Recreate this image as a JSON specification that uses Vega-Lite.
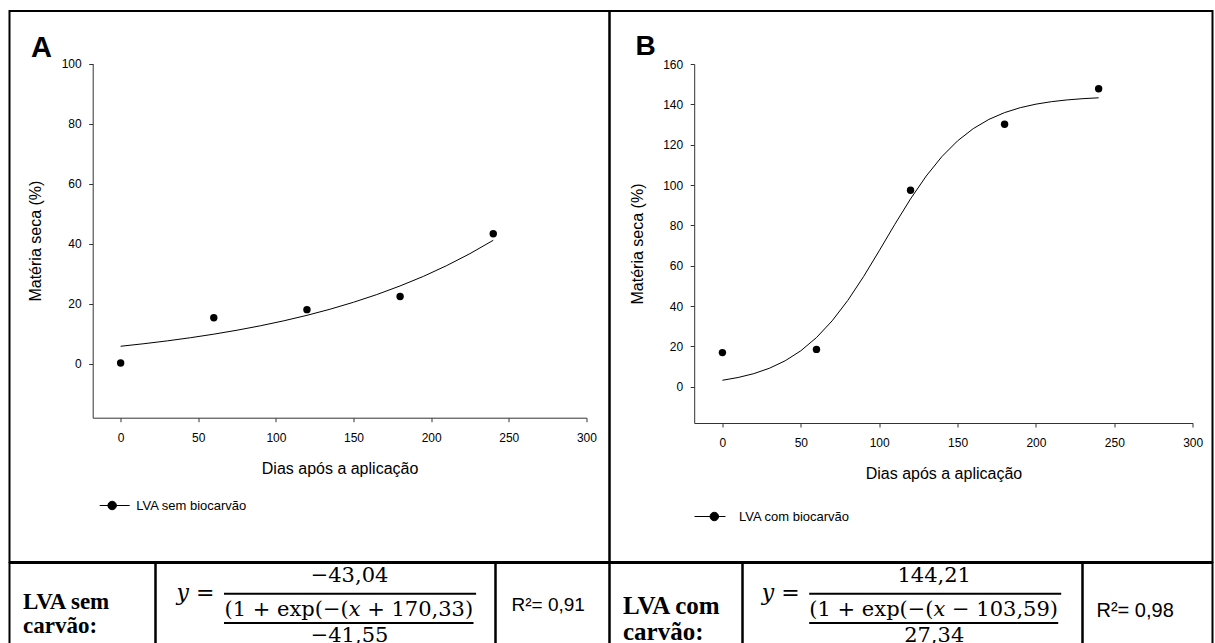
{
  "$schema": "https://vega.github.io/schema/vega-lite/v6.json",
  "background": "white",
  "padding": {"left": 8.5, "top": 10, "right": 2, "bottom": 0},
  "config": {
    "font": "Liberation Sans",
    "view": {"stroke": "black", "strokeWidth": 2},
    "axis": {
      "grid": false,
      "domainColor": "#333333",
      "tickColor": "#333333",
      "domainWidth": 1,
      "tickWidth": 1,
      "tickSize": 4,
      "labelColor": "black",
      "titleColor": "black",
      "labelFont": "Liberation Sans",
      "titleFont": "Liberation Sans",
      "labelFontSize": 12,
      "titleFontSize": 16,
      "titleFontWeight": "normal",
      "labelFlush": false,
      "labelOverlap": false
    }
  },
  "datasets": {
    "pontosA": [
      {"dias": 0, "ms": 0.2, "serie": "LVA sem biocarvão"},
      {"dias": 60, "ms": 15.3, "serie": "LVA sem biocarvão"},
      {"dias": 120, "ms": 18.0, "serie": "LVA sem biocarvão"},
      {"dias": 180, "ms": 22.4, "serie": "LVA sem biocarvão"},
      {"dias": 240, "ms": 43.3, "serie": "LVA sem biocarvão"}
    ],
    "curvaA": [
      {"dias": 0, "ms": 5.8}, {"dias": 15, "ms": 6.65}, {"dias": 30, "ms": 7.59},
      {"dias": 45, "ms": 8.65}, {"dias": 60, "ms": 9.83}, {"dias": 75, "ms": 11.15},
      {"dias": 90, "ms": 12.62}, {"dias": 105, "ms": 14.27}, {"dias": 120, "ms": 16.1},
      {"dias": 135, "ms": 18.16}, {"dias": 150, "ms": 20.46}, {"dias": 165, "ms": 23.02},
      {"dias": 180, "ms": 25.9}, {"dias": 195, "ms": 29.08}, {"dias": 210, "ms": 32.67},
      {"dias": 225, "ms": 36.66}, {"dias": 240, "ms": 41.1}
    ],
    "pontosB": [
      {"dias": 0, "ms": 16.9, "serie": "LVA com biocarvão"},
      {"dias": 60, "ms": 18.5, "serie": "LVA com biocarvão"},
      {"dias": 120, "ms": 97.4, "serie": "LVA com biocarvão"},
      {"dias": 180, "ms": 130.1, "serie": "LVA com biocarvão"},
      {"dias": 240, "ms": 147.7, "serie": "LVA com biocarvão"}
    ],
    "curvaB": [
      {"dias": 0, "ms": 3.19}, {"dias": 10, "ms": 4.56}, {"dias": 20, "ms": 6.47},
      {"dias": 30, "ms": 9.15}, {"dias": 40, "ms": 12.83}, {"dias": 50, "ms": 17.8},
      {"dias": 60, "ms": 24.35}, {"dias": 70, "ms": 32.66}, {"dias": 80, "ms": 42.79},
      {"dias": 90, "ms": 54.54}, {"dias": 100, "ms": 67.38}, {"dias": 110, "ms": 80.52},
      {"dias": 120, "ms": 93.11}, {"dias": 130, "ms": 104.45}, {"dias": 140, "ms": 114.09},
      {"dias": 150, "ms": 121.88}, {"dias": 160, "ms": 127.95}, {"dias": 170, "ms": 132.53},
      {"dias": 180, "ms": 135.9}, {"dias": 190, "ms": 138.34}, {"dias": 200, "ms": 140.09},
      {"dias": 210, "ms": 141.33}, {"dias": 220, "ms": 142.2}, {"dias": 230, "ms": 142.81},
      {"dias": 240, "ms": 143.24}
    ]
  },
  "spacing": -2,
  "vconcat": [
    {
      "spacing": 0,
      "bounds": "flush",
      "resolve": {"scale": {"x": "independent", "y": "independent", "color": "independent"}},
      "hconcat": [
        {
          "width": 600,
          "height": 551,
          "title": {"text": "A", "anchor": "start", "frame": "group", "orient": "top", "offset": -75.3, "dx": 21.5, "baseline": "alphabetic", "fontSize": 29, "fontWeight": "bold", "font": "Liberation Sans", "color": "black"},
          "layer": [
            {
              "data": {"name": "curvaA"},
              "mark": {"type": "line", "color": "black", "strokeWidth": 1},
              "encoding": {
                "x": {"field": "dias", "type": "quantitative",
                  "scale": {"domain": [-18, 300], "range": [83.2, 576.9], "nice": false, "zero": false},
                  "axis": {"values": [0, 50, 100, 150, 200, 250, 300], "offset": -144.3, "title": "Dias após a aplicação", "titleY": 55.6, "titleBaseline": "alphabetic", "labelPadding": 10.5}},
                "y": {"field": "ms", "type": "quantitative",
                  "scale": {"domain": [-18, 100], "range": [406.7, 52.5], "nice": false, "zero": false},
                  "axis": {"values": [0, 20, 40, 60, 80, 100], "offset": -83.2, "title": "Matéria seca (%)", "titleX": -52, "titleBaseline": "alphabetic", "labelPadding": 7.5}}
              }
            },
            {
              "data": {"name": "pontosA"},
              "mark": {"type": "point", "filled": true, "size": 55, "opacity": 1},
              "encoding": {
                "x": {"field": "dias", "type": "quantitative"},
                "y": {"field": "ms", "type": "quantitative"},
                "color": {"field": "serie", "type": "nominal", "scale": {"range": ["black"]},
                  "legend": {"title": null, "orient": "none", "legendX": 89.7, "legendY": 479, "padding": 0,
                    "symbolType": "M-1,0L1,0M0.113,0A0.283,0.283,0,1,1,-0.453,0A0.283,0.283,0,1,1,0.113,0Z",
                    "symbolSize": 900, "symbolFillColor": "black", "symbolStrokeColor": "black", "symbolStrokeWidth": 1, "symbolOpacity": 1,
                    "labelFontSize": 13, "labelColor": "black", "labelOffset": 6}}
              }
            }
          ]
        },
        {
          "width": 603,
          "height": 551,
          "title": {"text": "B", "anchor": "start", "frame": "group", "orient": "top", "offset": -72, "dx": 26, "baseline": "alphabetic", "fontSize": 28, "fontWeight": "bold", "font": "Liberation Sans", "color": "black"},
          "layer": [
            {
              "data": {"name": "curvaB"},
              "mark": {"type": "line", "color": "black", "strokeWidth": 1},
              "encoding": {
                "x": {"field": "dias", "type": "quantitative",
                  "scale": {"domain": [-18, 300], "range": [84.7, 583.2], "nice": false, "zero": false},
                  "axis": {"values": [0, 50, 100, 150, 200, 250, 300], "offset": -139, "title": "Dias após a aplicação", "titleY": 55.3, "titleBaseline": "alphabetic", "labelPadding": 10.3}},
                "y": {"field": "ms", "type": "quantitative",
                  "scale": {"domain": [-18, 160], "range": [412, 53], "nice": false, "zero": false},
                  "axis": {"values": [0, 20, 40, 60, 80, 100, 120, 140, 160], "offset": -84.7, "title": "Matéria seca (%)", "titleX": -51.5, "titleBaseline": "alphabetic", "labelPadding": 7.5}}
              }
            },
            {
              "data": {"name": "pontosB"},
              "mark": {"type": "point", "filled": true, "size": 55, "opacity": 1},
              "encoding": {
                "x": {"field": "dias", "type": "quantitative"},
                "y": {"field": "ms", "type": "quantitative"},
                "color": {"field": "serie", "type": "nominal", "scale": {"range": ["black"]},
                  "legend": {"title": null, "orient": "none", "legendX": 84.5, "legendY": 489.5, "padding": 0,
                    "symbolType": "M-1,0L1,0M0.551,0A0.274,0.274,0,1,1,0.003,0A0.274,0.274,0,1,1,0.551,0Z",
                    "symbolSize": 961, "symbolFillColor": "black", "symbolStrokeColor": "black", "symbolStrokeWidth": 1, "symbolOpacity": 1,
                    "labelFontSize": 13, "labelColor": "black", "labelOffset": 13}}
              }
            }
          ]
        }
      ]
    },
    {
      "spacing": 0,
      "bounds": "flush",
      "hconcat": [
        {
          "width": 146,
          "height": 90,
          "data": {"values": [{"l1": "LVA sem", "l2": "carvão:"}]},
          "layer": [
            {"mark": {"type": "text", "font": "Liberation Serif", "fontWeight": "bold", "fontSize": 23, "align": "left", "baseline": "alphabetic", "color": "black"},
             "encoding": {"text": {"field": "l1"}, "x": {"value": 13.5}, "y": {"value": 46}}},
            {"mark": {"type": "text", "font": "Liberation Serif", "fontWeight": "bold", "fontSize": 23, "align": "left", "baseline": "alphabetic", "color": "black"},
             "encoding": {"text": {"field": "l2"}, "x": {"value": 13.5}, "y": {"value": 70}}}
          ]
        },
        {
          "width": 340,
          "height": 90,
          "data": {"values": [{"lhs": "𝑦 =", "num": "−43,04", "den": "(1 + exp(−(𝑥 + 170,33)", "esc": "−41,55"}]},
          "layer": [
            {"mark": {"type": "text", "font": "DejaVu Serif", "fontSize": 22, "align": "left", "baseline": "alphabetic", "color": "black"},
             "encoding": {"text": {"field": "lhs"}, "x": {"value": 21}, "y": {"value": 37}}},
            {"mark": {"type": "text", "font": "DejaVu Serif", "fontSize": 21, "align": "center", "baseline": "alphabetic", "color": "black"},
             "encoding": {"text": {"field": "num"}, "x": {"value": 194}, "y": {"value": 18.5}}},
            {"mark": {"type": "rule", "color": "black", "strokeWidth": 2},
             "encoding": {"x": {"value": 68.5}, "x2": {"value": 320.6}, "y": {"value": 30.7}}},
            {"mark": {"type": "text", "font": "DejaVu Serif", "fontSize": 21, "align": "center", "baseline": "alphabetic", "color": "black"},
             "encoding": {"text": {"field": "den"}, "x": {"value": 193.3}, "y": {"value": 52.5}}},
            {"mark": {"type": "rule", "color": "black", "strokeWidth": 2},
             "encoding": {"x": {"value": 68.5}, "x2": {"value": 318}, "y": {"value": 60}}},
            {"mark": {"type": "text", "font": "DejaVu Serif", "fontSize": 21, "align": "center", "baseline": "alphabetic", "color": "black"},
             "encoding": {"text": {"field": "esc"}, "x": {"value": 194}, "y": {"value": 78.5}}}
          ]
        },
        {
          "width": 114,
          "height": 90,
          "data": {"values": [{"r2": "R²= 0,91"}]},
          "mark": {"type": "text", "font": "Liberation Sans", "fontSize": 19, "align": "left", "baseline": "alphabetic", "color": "black"},
          "encoding": {"text": {"field": "r2"}, "x": {"value": 16}, "y": {"value": 48}}
        },
        {
          "width": 133,
          "height": 90,
          "data": {"values": [{"l1": "LVA com", "l2": "carvão:"}]},
          "layer": [
            {"mark": {"type": "text", "font": "Liberation Serif", "fontWeight": "bold", "fontSize": 25, "align": "left", "baseline": "alphabetic", "color": "black"},
             "encoding": {"text": {"field": "l1"}, "x": {"value": 13.5}, "y": {"value": 51}}},
            {"mark": {"type": "text", "font": "Liberation Serif", "fontWeight": "bold", "fontSize": 25, "align": "left", "baseline": "alphabetic", "color": "black"},
             "encoding": {"text": {"field": "l2"}, "x": {"value": 13.5}, "y": {"value": 77}}}
          ]
        },
        {
          "width": 340,
          "height": 90,
          "data": {"values": [{"lhs": "𝑦 =", "num": "144,21", "den": "(1 + exp(−(𝑥 − 103,59)", "esc": "27,34"}]},
          "layer": [
            {"mark": {"type": "text", "font": "DejaVu Serif", "fontSize": 22, "align": "left", "baseline": "alphabetic", "color": "black"},
             "encoding": {"text": {"field": "lhs"}, "x": {"value": 19.3}, "y": {"value": 37}}},
            {"mark": {"type": "text", "font": "DejaVu Serif", "fontSize": 21, "align": "center", "baseline": "alphabetic", "color": "black"},
             "encoding": {"text": {"field": "num"}, "x": {"value": 191.7}, "y": {"value": 18.5}}},
            {"mark": {"type": "rule", "color": "black", "strokeWidth": 2},
             "encoding": {"x": {"value": 66.7}, "x2": {"value": 318.7}, "y": {"value": 30.7}}},
            {"mark": {"type": "text", "font": "DejaVu Serif", "fontSize": 21, "align": "center", "baseline": "alphabetic", "color": "black"},
             "encoding": {"text": {"field": "den"}, "x": {"value": 191.2}, "y": {"value": 52.5}}},
            {"mark": {"type": "rule", "color": "black", "strokeWidth": 2},
             "encoding": {"x": {"value": 66.7}, "x2": {"value": 315.7}, "y": {"value": 60}}},
            {"mark": {"type": "text", "font": "DejaVu Serif", "fontSize": 21, "align": "center", "baseline": "alphabetic", "color": "black"},
             "encoding": {"text": {"field": "esc"}, "x": {"value": 191.7}, "y": {"value": 78.5}}}
          ]
        },
        {
          "width": 130,
          "height": 90,
          "data": {"values": [{"r2": "R²= 0,98"}]},
          "mark": {"type": "text", "font": "Liberation Sans", "fontSize": 20, "align": "left", "baseline": "alphabetic", "color": "black"},
          "encoding": {"text": {"field": "r2"}, "x": {"value": 14}, "y": {"value": 54}}
        }
      ]
    }
  ]
}
